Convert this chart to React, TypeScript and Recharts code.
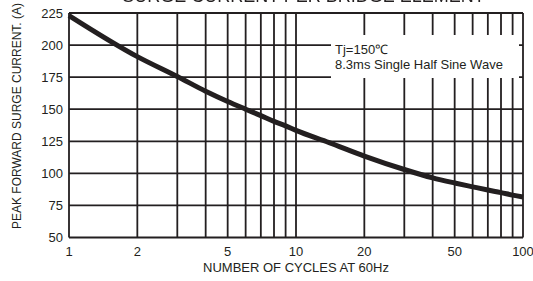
import React from 'react';
import { LineChart, Line, XAxis, YAxis, CartesianGrid, Label } from 'recharts';

const cycles = [1, 2, 3, 4, 5, 6, 7, 8, 9, 10, 14, 20, 30, 40, 50, 60, 70, 80, 90, 100];
const current = [223, 191, 175.5, 164, 156, 150, 145, 140.5, 137, 133.5, 124, 113.5, 103, 96.5, 92.5, 89.5, 87, 85, 83, 81.5];

const xTicks = [1, 2, 3, 4, 5, 6, 7, 8, 9, 10, 20, 30, 40, 50, 60, 70, 80, 90, 100];
const xLabeled = [1, 2, 5, 10, 20, 50, 100];
const yTicks = [50, 75, 100, 125, 150, 175, 200, 225];

const title = 'SURGE CURRENT PER BRIDGE ELEMENT';
const xTitle = 'NUMBER OF CYCLES AT 60Hz';
const yTitle = 'PEAK FORWARD SURGE CURRENT. (A)';
const note1 = 'Tj=150℃';
const note2 = '8.3ms Single Half Sine Wave';

const data = cycles.map((c, i) => ({ c, v: current[i] }));

const INK = '#231f20';
const FONT = '"Liberation Sans", Arial, sans-serif';

export default function App() {
  return (
    <div style={{ position: 'fixed', left: 0, top: 0, width: 533, height: 281, background: '#fff', fontFamily: FONT }}>
      <LineChart width={533} height={281} data={data} margin={{ top: 13, right: 10, left: 0, bottom: 0 }}>
        <CartesianGrid stroke={INK} strokeWidth={1.8} />
        <XAxis
          dataKey="c"
          type="number"
          scale="log"
          domain={[1, 100]}
          ticks={xTicks}
          interval={0}
          tickFormatter={(v: number) => (xLabeled.includes(v) ? String(v) : '')}
          axisLine={false}
          tickLine={false}
          tickSize={0}
          tickMargin={9.5}
          height={43.5}
          tick={{ fill: INK, fontSize: 13, fontFamily: FONT }}
        >
          <Label value={xTitle} position="insideBottom" offset={9} fill={INK} fontSize={13} fontFamily={FONT} />
        </XAxis>
        <YAxis
          type="number"
          domain={[50, 225]}
          ticks={yTicks}
          interval={0}
          axisLine={false}
          tickLine={false}
          tickSize={0}
          tickMargin={6}
          width={69}
          tick={{ fill: INK, fontSize: 13, fontFamily: FONT }}
        >
          <Label
            content={() => (
              <text
                x={20.5}
                y={116}
                transform="rotate(-90 20.5 116)"
                textAnchor="middle"
                fill={INK}
                fontSize={12}
                fontFamily={FONT}
              >
                {yTitle}
              </text>
            )}
          />
        </YAxis>
        <Line
          type="monotone"
          dataKey="v"
          stroke={INK}
          strokeWidth={5}
          dot={false}
          activeDot={false}
          isAnimationActive={false}
        />
      </LineChart>
      <div
        style={{
          position: 'absolute',
          left: 0,
          width: 607,
          top: -14,
          textAlign: 'center',
          fontSize: 18,
          lineHeight: '20px',
          color: INK,
          whiteSpace: 'nowrap',
        }}
      >
        {title}
      </div>
      <div
        style={{
          position: 'absolute',
          left: 331,
          top: 35,
          width: 184,
          height: 36,
          paddingLeft: 4,
          paddingTop: 7,
          background: '#fff',
          fontSize: 13,
          lineHeight: '15px',
          color: INK,
          whiteSpace: 'nowrap',
        }}
      >
        <div>{note1}</div>
        <div>{note2}</div>
      </div>
    </div>
  );
}
